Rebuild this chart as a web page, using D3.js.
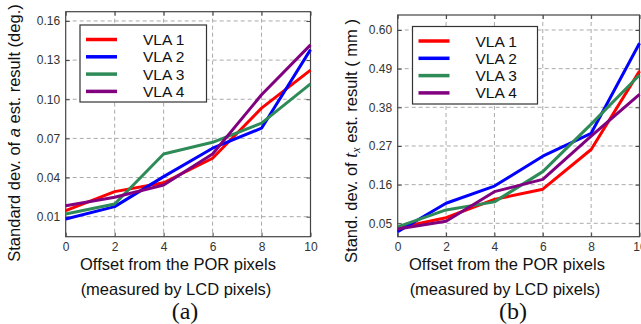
<!DOCTYPE html>
<html><head><meta charset="utf-8">
<script src="https://cdn.jsdelivr.net/npm/d3@7"></script>
<style>body{margin:0;background:#fff}svg{display:block}text{font-family:"Liberation Sans",Arial,sans-serif}</style>
</head><body>
<svg id="c" width="641" height="324"></svg>
<script>
const offsets = [0, 2, 4, 6, 8, 10];
const seriesNames = ["VLA 1", "VLA 2", "VLA 3", "VLA 4"];
const seriesColors = ["#ff0000", "#0000ff", "#2e8b57", "#800080"];
// (a) standard deviation of a (deg.)
const aVLA1 = [0.0146, 0.0292, 0.0360, 0.0548, 0.0932, 0.1223];
const aVLA2 = [0.0082, 0.0177, 0.0407, 0.0625, 0.0778, 0.1380];
const aVLA3 = [0.0120, 0.0197, 0.0580, 0.0670, 0.0817, 0.1118];
const aVLA4 = [0.0184, 0.0249, 0.0343, 0.0580, 0.1034, 0.1417];
const aTicks = [0.01, 0.04, 0.07, 0.10, 0.13, 0.16];
// (b) standard deviation of tx (mm)
const tVLA1 = [0.037, 0.066, 0.118, 0.147, 0.260, 0.483];
const tVLA2 = [0.026, 0.107, 0.156, 0.241, 0.306, 0.562];
const tVLA3 = [0.040, 0.088, 0.111, 0.197, 0.332, 0.472];
const tVLA4 = [0.034, 0.056, 0.140, 0.175, 0.298, 0.417];
const tTicks = [0.05, 0.16, 0.27, 0.38, 0.49, 0.60];
const xTicks = [0, 2, 4, 6, 8, 10];

const svg = d3.select("#c");

function panel(cfg) {
  const x = d3.scaleLinear().domain([0, 10]).range([cfg.left, cfg.right]);
  const y = d3.scaleLinear().domain(cfg.yDomain).range([cfg.bottom, cfg.top]);
  const g = svg.append("g");
  // grid
  g.append("g").selectAll("line.v").data(xTicks.slice(1, -1)).join("line")
    .attr("x1", d => x(d)).attr("x2", d => x(d)).attr("y1", cfg.top).attr("y2", cfg.bottom)
    .attr("stroke", "#aaa").attr("stroke-dasharray", "4,3").attr("stroke-width", 1);
  g.append("g").selectAll("line.h").data(cfg.yTicks).join("line")
    .attr("x1", cfg.left).attr("x2", cfg.right).attr("y1", d => y(d)).attr("y2", d => y(d))
    .attr("stroke", "#aaa").attr("stroke-dasharray", "4,3").attr("stroke-width", 1);
  // axes (inward ticks)
  const fmt = d3.format(".2f");
  const ax = (axis, tr) => {
    const a = g.append("g").attr("transform", tr).call(axis);
    a.select(".domain").remove();
    a.selectAll(".tick line").attr("stroke", "#444");
    a.selectAll("text").attr("fill", "#333").style("font-size", "12px");
    return a;
  };
  ax(d3.axisLeft(y).tickValues(cfg.yTicks).tickFormat(fmt).tickSizeInner(-4).tickPadding(5.5), `translate(${cfg.left},0)`);
  ax(d3.axisRight(y).tickValues(cfg.yTicks).tickSizeInner(-4).tickFormat(""), `translate(${cfg.right},0)`);
  ax(d3.axisBottom(x).tickValues(xTicks).tickFormat(d3.format("d")).tickSizeInner(-4).tickPadding(5.5), `translate(0,${cfg.bottom})`);
  ax(d3.axisTop(x).tickValues(xTicks).tickSizeInner(-4).tickFormat(""), `translate(0,${cfg.top})`);
  // frame
  g.append("rect").attr("x", cfg.left).attr("y", cfg.top)
    .attr("width", cfg.right - cfg.left).attr("height", cfg.bottom - cfg.top)
    .attr("fill", "none").attr("stroke", "#444").attr("stroke-width", 1.2);
  // lines
  const line = d3.line().x((d, i) => x(offsets[i])).y(d => y(d));
  cfg.series.forEach((s, k) => {
    g.append("path").datum(s).attr("d", line).attr("fill", "none")
      .attr("stroke", seriesColors[k]).attr("stroke-width", 3).attr("stroke-linejoin", "round");
  });
  // legend
  const L = cfg.legend;
  g.append("rect").attr("x", L.x).attr("y", L.y).attr("width", L.w).attr("height", L.h)
    .attr("fill", "#fff").attr("stroke", "#333").attr("stroke-width", 1.2);
  seriesNames.forEach((n, k) => {
    const yy = L.y + 14.5 + k * 17.3;
    g.append("line").attr("x1", L.x + 6).attr("x2", L.x + 37).attr("y1", yy).attr("y2", yy)
      .attr("stroke", seriesColors[k]).attr("stroke-width", 3.5);
    g.append("text").attr("x", L.x + 63).attr("y", yy + 5.5).text(n)
      .style("font-size", "15.5px").attr("fill", "#111");
  });
  // x title
  const cx = cfg.titleX;
  g.append("text").attr("x", cx).attr("y", 270).attr("text-anchor", "middle")
    .style("font-size", "16.5px").attr("fill", "#111").text("Offset from the POR pixels");
  g.append("text").attr("x", cx - 2).attr("y", 295).attr("text-anchor", "middle")
    .style("font-size", "16.5px").attr("fill", "#111").text("(measured by LCD pixels)");
  g.append("text").attr("x", cfg.capX).attr("y", 318.5).attr("text-anchor", "middle")
    .style("font-family", "'Liberation Serif','Times New Roman',serif").style("font-size", "24px")
    .attr("fill", "#111").text(cfg.caption);
  // y title
  const yt = g.append("text").attr("transform", `translate(${cfg.ylabX},${cfg.ylabY}) rotate(-90)`)
    .attr("text-anchor", "middle").style("font-size", "16.5px").attr("fill", "#111");
  cfg.ylab(yt);
}

panel({
  left: 65.7, right: 310.5, top: 11.7, bottom: 236.7,
  yDomain: [-0.00535, 0.1671], yTicks: aTicks,
  series: [aVLA1, aVLA2, aVLA3, aVLA4],
  legend: {x: 80, y: 25, w: 126.5, h: 77},
  titleX: 178, capX: 185, caption: "(a)",
  ylabX: 20, ylabY: 133,
  ylab: t => {
    t.append("tspan").text("Standard dev. of ");
    t.append("tspan").style("font-style", "italic").text("a");
    t.append("tspan").text(" est. result (deg.)");
  }
});

panel({
  left: 397.7, right: 639.5, top: 15, bottom: 236.7,
  yDomain: [0.0119, 0.6426], yTicks: tTicks,
  series: [tVLA1, tVLA2, tVLA3, tVLA4],
  legend: {x: 412.5, y: 26.5, w: 125, h: 77.5},
  titleX: 507, capX: 513, caption: "(b)",
  ylabX: 357, ylabY: 141,
  ylab: t => {
    t.append("tspan").text("Stand. dev. of ");
    t.append("tspan").style("font-style", "italic").style("font-family", "'Liberation Serif','Times New Roman',serif").style("font-size", "18px").text("t");
    t.append("tspan").style("font-style", "italic").style("font-family", "'Liberation Serif','Times New Roman',serif").style("font-size", "12px").attr("dy", 3).text("x");
    t.append("tspan").attr("dy", -3).text(" est. result ( mm )");
  }
});
</script>
</body></html>
